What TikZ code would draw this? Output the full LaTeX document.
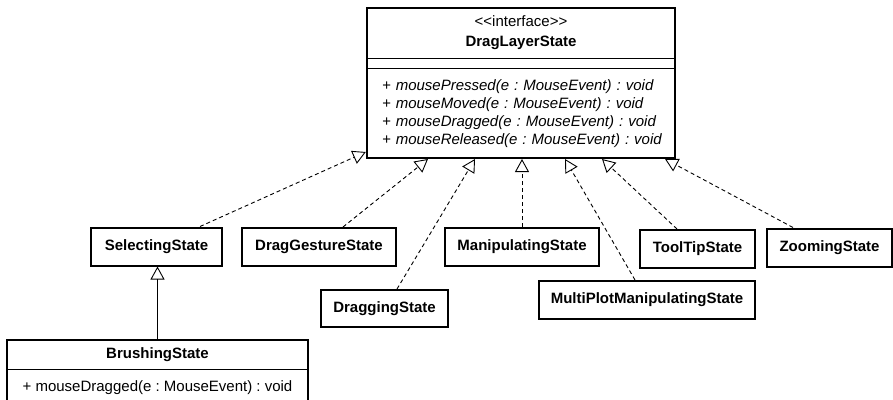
\documentclass[tikz,border=0pt]{standalone}
\usepackage{fontspec}
\setmainfont{Liberation Sans}
\usetikzlibrary{arrows.meta,positioning,fit}

\begin{document}
\begin{tikzpicture}[
      x=1pt, y=-1pt,
      font=\fontsize{15}{18}\selectfont\frenchspacing,
      part/.style={minimum width=308pt, inner sep=0pt, align=center},
      state/.style={draw, line width=2pt, font=\fontsize{15}{18}\selectfont\bfseries,
        minimum height=38pt, inner sep=0pt},
      frame/.style={draw, line width=2pt, inner sep=0pt},
      realize/.style={-{Triangle[open, length=13pt, width=14pt, line width=0.9pt]},
        line width=0.9pt, dash pattern=on 4pt off 3pt},
      extend/.style={-{Triangle[open, length=13pt, width=14pt, line width=0.9pt]},
        line width=0.9pt}
    ]
      \useasboundingbox (0,0) rectangle (893,399);
      \clip (0,0) rectangle (893,399);

      % interface
      \node[part, minimum height=50pt, font=\fontsize{15}{20}\selectfont] (dlshead) at (521,33)
        {<{}<interface>{}>\\\textbf{DragLayerState}};
      \node[part, minimum height=10pt, below=0pt of dlshead] (dlsattr) {};
      \node[part, minimum height=89pt, below=0pt of dlsattr, align=left, text width=285pt,
        font=\fontsize{15}{18}\selectfont\frenchspacing\itshape, xshift=3.5pt] (dlsops)
        {+ mousePressed(e : MouseEvent) : void\\
         + mouseMoved(e : MouseEvent) : void\\
         + mouseDragged(e : MouseEvent) : void\\
         + mouseReleased(e : MouseEvent) : void};
      \node[frame, fit=(dlshead)(dlsattr)(dlsops.south)] (dls) {};
      \draw[thin] (dlsattr.north west) -- (dlsattr.north east);
      \draw[thin] (dlsattr.south west) -- (dlsattr.south east);

      % states
      \node[state, minimum width=131pt] (selecting) at (156.5,246.5) {SelectingState};
      \node[state, minimum width=154pt] (draggesture) at (319,247) {DragGestureState};
      \node[state, minimum width=127pt, minimum height=37pt] (dragging) at (384.5,308.5) {DraggingState};
      \node[state, minimum width=154pt] (manipulating) at (522,247) {ManipulatingState};
      \node[state, minimum width=216pt] (multiplot) at (647,300) {MultiPlotManipulatingState};
      \node[state, minimum width=115pt] (tooltip) at (697.5,249) {ToolTipState};
      \node[state, minimum width=125pt] (zooming) at (829.5,247.5) {ZoomingState};

      % subclass
      \node[part, minimum width=301pt, minimum height=29pt, font=\fontsize{15}{18}\selectfont\bfseries]
        (brushhead) at (157.5,354.5) {BrushingState};
      \node[part, minimum width=301pt, minimum height=36pt, below=0pt of brushhead] (brushops)
        {+ mouseDragged(e : MouseEvent) : void};
      \node[frame, fit=(brushhead)(brushops)] (brushing) {};
      \draw[thin] (brushhead.south west) -- (brushhead.south east);

      % realizations
      \draw[realize] ([xshift=43.5pt]selecting.north) -- ([yshift=7pt]dls.south west);
      \draw[realize] ([xshift=24pt]draggesture.north) -- ([xshift=-93pt]dls.south);
      \draw[realize] ([xshift=12.5pt]dragging.north) -- ([xshift=-46pt]dls.south);
      \draw[realize] (manipulating.north) -- (manipulating.north |- dls.south);
      \draw[realize] ([xshift=-12pt]multiplot.north) -- ([xshift=44pt]dls.south);
      \draw[realize] ([xshift=-20.5pt]tooltip.north) -- ([xshift=81pt]dls.south);
      \draw[realize] ([xshift=-36.5pt]zooming.north) -- ([xshift=144pt]dls.south);

      % generalization
      \draw[extend] (brushing.north) -- (brushing.north |- selecting.south);
    \end{tikzpicture}
\end{document}
